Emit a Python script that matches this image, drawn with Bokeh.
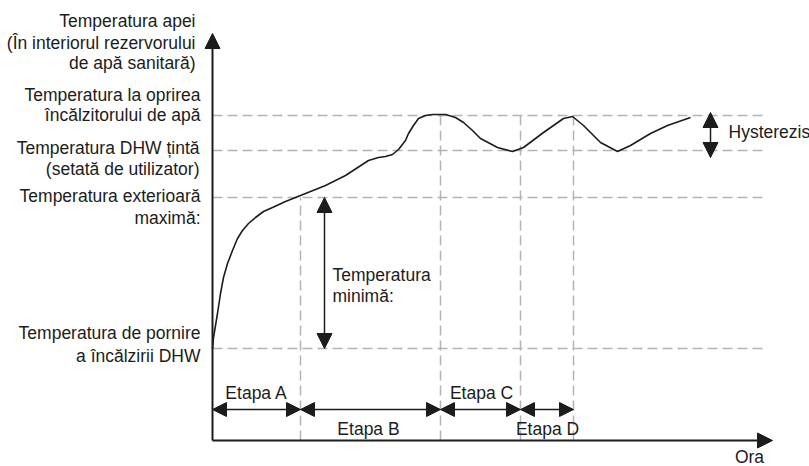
from bokeh.plotting import figure
from bokeh.models import Arrow, NormalHead, Range1d
from bokeh.core.properties import value
from bokeh.embed import file_html
from bokeh.resources import INLINE

# ---------------- data (schematic units: time -> right, temperature -> up) ----------------
time_pts = [0, 1, 5, 8, 11, 15, 20, 25, 30, 36, 43, 51, 60, 73, 88, 113, 133, 156, 166,
            173, 180, 186, 193, 196, 201, 206, 213, 220, 233, 243, 251, 260, 268, 285,
            300, 311, 331, 351, 360, 371, 388, 405, 418, 438, 455, 478]
temp_pts = [92, 103, 127, 147, 163, 177, 190, 202, 210, 217, 223, 229, 233, 239, 245, 255,
            265, 280, 283, 284, 286, 291, 300, 307, 315, 322, 325, 326, 326, 323, 318, 310,
            302, 293, 289, 293, 308, 322, 324, 315, 298, 289, 295, 307, 315, 323]

T_start = 92       # Temperatura de pornire a încălzirii DHW
T_max_ext = 243    # Temperatura exterioară maximă
T_target = 290     # Temperatura DHW țintă
T_stop = 325       # Temperatura la oprirea încălzitorului de apă
levels = [T_stop, T_target, T_max_ext, T_start]

stage_names = ["Etapa A", "Etapa B", "Etapa C", "Etapa D"]
stage_bounds = [0, 88, 228, 308, 361]

level_labels = ["Temperatura apei", "(În interiorul rezervorului", "de apă sanitară)",
                "Temperatura la oprirea", "încălzitorului de apă",
                "Temperatura DHW țintă", "(setată de utilizator)",
                "Temperatura exterioară", "maximă:",
                "Temperatura de pornire", "a încălzirii DHW"]
min_label = ["Temperatura", "minimă:"]
hyst_label = "Hysterezis"
x_label = "Ora"

# ---------------- layout / style ----------------
FONT = value("Liberation Sans")
FS = value("17.5px")
INK = "#1c1c1c"
DASH = "#b4b4b4"

p = figure(width=809, height=466, x_range=Range1d(-212, 597), y_range=Range1d(-26, 440),
           output_backend="svg", toolbar_location=None, x_axis_type=None, y_axis_type=None,
           min_border=0, outline_line_color=None)
p.grid.visible = False

# dashed reference lines
p.segment(x0=[0] * 4, x1=[550] * 4, y0=levels, y1=levels,
          line_color=DASH, line_width=1.5, line_dash="10 5")
p.segment(x0=stage_bounds[1:], x1=stage_bounds[1:], y0=[0] * 4,
          y1=[T_max_ext, T_stop, T_stop, T_stop],
          line_color=DASH, line_width=1.5, line_dash="10 5")

# curve
p.line(time_pts, temp_pts, line_color=INK, line_width=1.6)

# axes with arrow heads
def head(sz):
    return NormalHead(size=sz, fill_color=INK, line_color=INK, line_width=1)

p.add_layout(Arrow(end=head(15), x_start=0, y_start=0, x_end=0, y_end=407,
                   line_color=INK, line_width=2))
p.add_layout(Arrow(end=head(15), x_start=0, y_start=0, x_end=560, y_end=0,
                   line_color=INK, line_width=2))

# stage arrows
for i in range(4):
    p.add_layout(Arrow(start=head(14), end=head(14),
                       x_start=stage_bounds[i], x_end=stage_bounds[i + 1],
                       y_start=31, y_end=31, line_color=INK, line_width=1.6))

# minimum temperature arrow
p.add_layout(Arrow(start=head(15), end=head(15), x_start=112, x_end=112,
                   y_start=T_start, y_end=T_max_ext, line_color=INK, line_width=1.5))
# hysteresis arrow
p.add_layout(Arrow(start=head(15), end=head(15), x_start=498, x_end=498,
                   y_start=T_target - 7, y_end=T_stop + 3, line_color=INK, line_width=1.5))

# left labels
lx = [-17, -17, -17, -12, -12, -13, -13, -12, -12, -12, -12]
ly = [420, 398, 378, 346, 326, 293, 272, 245, 223, 108, 85]
p.text(x=lx, y=ly, text=level_labels, text_align="right", text_baseline="middle",
       text_font=FONT, text_font_size=FS, text_color=INK)

# stage labels
p.text(x=[44, 156, 269, 335], y=[48, 12, 48, 12], text=stage_names,
       text_align="center", text_baseline="middle",
       text_font=FONT, text_font_size=FS, text_color=INK)

# minimum label
p.text(x=[120, 120], y=[166, 145], text=min_label, text_align="left",
       text_baseline="middle", text_font=FONT, text_font_size=FS, text_color=INK)

# hysteresis label
p.text(x=[516], y=[309], text=[hyst_label], text_align="left", text_baseline="middle",
       text_font=FONT, text_font_size=FS, text_color=INK)

# x label
p.text(x=[537], y=[-16], text=[x_label], text_align="center", text_baseline="middle",
       text_font=FONT, text_font_size=FS, text_color=INK)

open("out.html", "w").write(file_html(p, INLINE))
